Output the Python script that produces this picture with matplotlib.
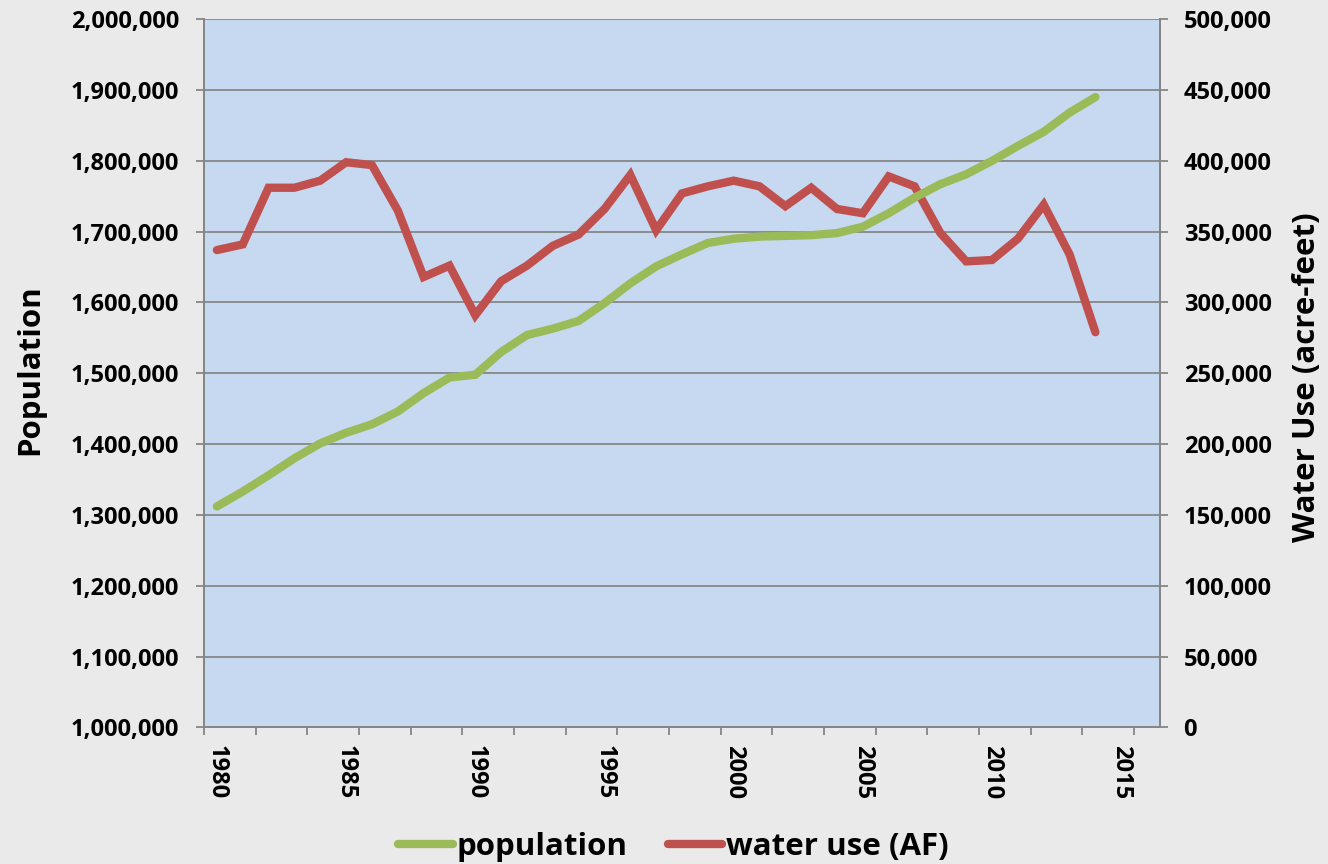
import numpy as np
import matplotlib
matplotlib.use("Agg")
import matplotlib.pyplot as plt
from matplotlib.ticker import FuncFormatter, MultipleLocator, FixedLocator

plt.rcParams['font.family'] = ['Open Sans', 'DejaVu Sans']
plt.rcParams['font.weight'] = 'bold'

years = list(range(1980, 2015))
population = [1312000, 1333000, 1356000, 1380000, 1401000, 1416000, 1428000,
              1446000, 1472000, 1494000, 1498000, 1530000, 1554000, 1563000,
              1574000, 1599000, 1627000, 1651000, 1668000, 1684000, 1690000,
              1693000, 1694000, 1695000, 1698000, 1707000, 1726000, 1748000,
              1767000, 1781000, 1800000, 1821000, 1841000, 1868000, 1890000]
water_use = [337000, 341000, 381000, 381000, 386000, 399000, 397000, 365000,
             318000, 326000, 291000, 315000, 326000, 340000, 348000, 366000,
             390000, 351000, 377000, 382000, 386000, 382000, 368000, 381000,
             366000, 363000, 389000, 382000, 349000, 329000, 330000, 345000,
             369000, 334000, 279000]
year_labels = [1980, 1985, 1990, 1995, 2000, 2005, 2010, 2015]

bg = '#EAEAEA'
plot_bg = '#C6D9F0'
green = '#9BBB59'
red = '#C0504D'
gridc = '#868686'

fig = plt.figure(figsize=(13.28, 8.64), dpi=100, facecolor=bg)
ax2 = fig.add_axes([0.1536, 0.1581, 0.7199, 0.8197])
ax = ax2.twinx()
ax.yaxis.tick_left()
ax2.yaxis.tick_right()

# left axis on top so the green line sits over the red one
ax2.set_zorder(1)
ax.set_zorder(2)
ax.patch.set_visible(False)
ax2.patch.set_visible(True)
ax2.set_facecolor(plot_bg)

lw = 6
l2, = ax2.plot(years, water_use, color=red, lw=lw, solid_capstyle='round',
               solid_joinstyle='miter', label='water use (AF)')
l1, = ax.plot(years, population, color=green, lw=lw, solid_capstyle='round',
              solid_joinstyle='miter', label='population')

ax.set_ylim(1000000, 2000000)
ax2.set_ylim(0, 500000)
ax.set_xlim(1979.5, 2016.5)
ax2.set_xlim(1979.5, 2016.5)

ax.yaxis.set_major_locator(MultipleLocator(100000))
ax2.yaxis.set_major_locator(MultipleLocator(50000))
fmt = FuncFormatter(lambda v, p: f'{int(round(v)):,}')
ax.yaxis.set_major_formatter(fmt)
ax2.yaxis.set_major_formatter(fmt)

ax2.grid(axis='y', color=gridc, lw=1.3)
ax2.set_axisbelow(True)

# x axis: labels every 5 years, tick marks every 2 categories
for a in (ax, ax2):
    a.xaxis.set_major_locator(FixedLocator(year_labels))
    a.xaxis.set_minor_locator(FixedLocator(np.arange(1979.5, 2016, 2)))
ax2.tick_params(axis='x', which='major', length=0, pad=13, labelsize=17,
                labelrotation=-90, colors='black')
ax2.tick_params(axis='x', which='minor', length=6, width=1.3, color=gridc,
                direction='out')
ax.tick_params(axis='x', which='both', length=0, labelbottom=False)

ax.tick_params(axis='y', length=6, width=1.3, color=gridc, labelsize=17,
               pad=12, labelcolor='black')
ax2.tick_params(axis='y', length=6, width=1.3, color=gridc, labelsize=17,
                pad=11, labelcolor='black')
for t in ax.get_yticklabels() + ax2.get_yticklabels() + ax2.get_xticklabels():
    t.set_fontweight('bold')

for a in (ax, ax2):
    a.spines['top'].set_visible(False)
    for s in ('left', 'right', 'bottom'):
        a.spines[s].set_color(gridc)
        a.spines[s].set_linewidth(1.3)

fig.text(30 / 1328, 1 - 370 / 864, 'Population', rotation=90, fontsize=22.5,
         fontweight='bold', ha='center', va='center')
fig.text(1307 / 1328, 1 - 377 / 864, 'Water Use (acre-feet)', rotation=90,
         fontsize=22.5, fontweight='bold', ha='center', va='center')

fig.legend(handles=[l1, l2], loc='lower center', ncol=2, frameon=False,
           bbox_to_anchor=(0.507, -0.03), prop={'size': 22.5, 'weight': 'bold'},
           handlelength=1.75, handletextpad=0.1, columnspacing=1.3)

fig.savefig('out.png', dpi=100, facecolor=bg)
